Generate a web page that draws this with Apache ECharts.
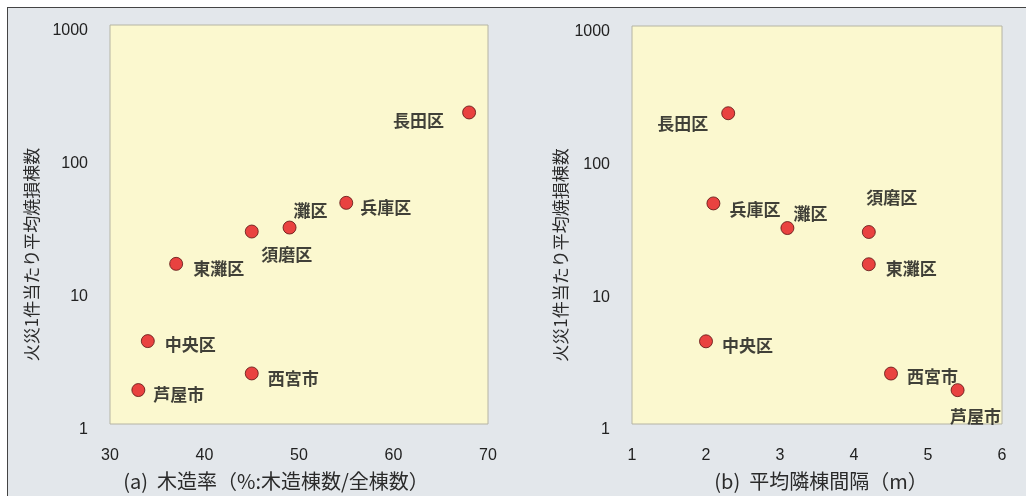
<!DOCTYPE html>
<html>
<head>
<meta charset="utf-8">
<script src="https://cdn.jsdelivr.net/npm/echarts@6/dist/echarts.min.js"></script>
<style>
  html, body { margin: 0; padding: 0; background: #ffffff; }
  #frame {
    position: absolute; left: 7px; top: 7px; width: 1019px; height: 489px;
    background: #e3e7eb; border-top: 1.5px solid #444; border-left: 1.5px solid #444;
  }
  #chart { position: absolute; left: 0; top: 0; width: 1026px; height: 496px; }
</style>
</head>
<body>
<div id="frame"></div>
<div id="chart"></div>
<script>
// Districts of the Hanshin area and their fire statistics
const districts = ['長田区', '兵庫区', '灘区', '須磨区', '東灘区', '中央区', '西宮市', '芦屋市'];
// Average number of buildings burned per fire
const burnedPerFire = [220, 46, 30, 28, 16, 4.2, 2.4, 1.8];
// Wooden building ratio (%)
const woodRatio = [68, 55, 49, 45, 37, 34, 45, 33];
// Average spacing between neighbouring buildings (m)
const buildingSpacing = [2.3, 2.1, 3.1, 4.2, 4.2, 2.0, 4.5, 5.4];

const yTicks = [1, 10, 100, 1000];
const yTitle = '火災1件当たり平均焼損棟数';
const xTitleA = '(a)  木造率（%:木造棟数/全棟数）';
const xTitleB = '(b)  平均隣棟間隔（m）';

// label placement for each district, per panel
const labelPlaceA = [
  { position: 'left', offset: [-10, 8] },
  { position: 'right', offset: [-1, 5] },
  { position: 'inside', offset: [21, -17] },
  { position: 'inside', offset: [35, 23] },
  { position: 'right', offset: [2, 5] },
  { position: 'right', offset: [2, 3] },
  { position: 'right', offset: [1, 5] },
  { position: 'right', offset: [0, 4] }
];
const labelPlaceB = [
  { position: 'left', offset: [-5, 10] },
  { position: 'right', offset: [1, 6] },
  { position: 'inside', offset: [23, -14] },
  { position: 'inside', offset: [23, -34] },
  { position: 'right', offset: [2, 4] },
  { position: 'right', offset: [1, 4] },
  { position: 'right', offset: [1, 3] },
  { position: 'inside', offset: [18, 26] }
];

const CJK = '"Noto Sans CJK JP", "Noto Sans", sans-serif';
const NUM = '"Liberation Sans", Arial, sans-serif';

function points(xs, places) {
  return districts.map((name, i) => ({
    name: name,
    value: [xs[i], burnedPerFire[i]],
    label: { position: places[i].position, offset: places[i].offset, distance: 8 }
  }));
}

function yAxis(gridIndex, nameGap) {
  return {
    type: 'log', logBase: 10, min: 1, max: 1000, gridIndex: gridIndex,
    name: yTitle, nameLocation: 'middle', nameRotate: 90, nameGap: nameGap,
    nameTextStyle: { fontFamily: CJK, fontSize: 17, color: '#2a2a2a', padding: [0, 60, 0, 0] },
    axisLine: { show: false }, axisTick: { show: false }, splitLine: { show: false },
    axisLabel: {
      fontFamily: NUM, fontSize: 16, color: '#222', margin: 22,
      verticalAlign: 'top', lineHeight: 12,
      customValues: yTicks,
      formatter: v => String(Math.round(v))
    }
  };
}

function xAxis(gridIndex, min, max, interval, title, titlePad) {
  return {
    type: 'value', min: min, max: max, interval: interval, gridIndex: gridIndex,
    name: title, nameLocation: 'middle', nameGap: 47,
    nameTextStyle: { fontFamily: CJK, fontSize: 20, color: '#2a2a2a', padding: titlePad },
    axisLine: { show: false }, axisTick: { show: false }, splitLine: { show: false },
    axisLabel: { fontFamily: NUM, fontSize: 16, color: '#222', margin: 24 }
  };
}

const seriesStyle = {
  type: 'scatter',
  symbol: 'circle',
  symbolSize: 13,
  itemStyle: { color: '#e5141c', borderColor: '#5a1212', borderWidth: 1 },
  label: {
    show: true, formatter: '{b}', fontFamily: CJK, fontSize: 17, fontWeight: 'bold', color: '#121212'
  },
  emphasis: { disabled: true }
};

const chart = echarts.init(document.getElementById('chart'), null, { renderer: 'canvas' });
chart.setOption({
  backgroundColor: 'transparent',
  animation: false,
  grid: [
    { left: 110, right: 538, top: 25, bottom: 69, show: true, backgroundColor: '#fbf8cf', borderColor: '#b5b4a4', borderWidth: 1 },
    { left: 632, right: 24, top: 26, bottom: 69, show: true, backgroundColor: '#fbf8cf', borderColor: '#b5b4a4', borderWidth: 1 }
  ],
  xAxis: [
    xAxis(0, 30, 70, 10, xTitleA, [0, 46, 0, 0]),
    xAxis(1, 1, 6, 1, xTitleB, [0, 0, 0, 8])
  ],
  yAxis: [yAxis(0, 70), yAxis(1, 63)],
  series: [
    Object.assign({}, seriesStyle, { xAxisIndex: 0, yAxisIndex: 0, data: points(woodRatio, labelPlaceA) }),
    Object.assign({}, seriesStyle, { xAxisIndex: 1, yAxisIndex: 1, data: points(buildingSpacing, labelPlaceB) })
  ]
});
</script>
</body>
</html>
